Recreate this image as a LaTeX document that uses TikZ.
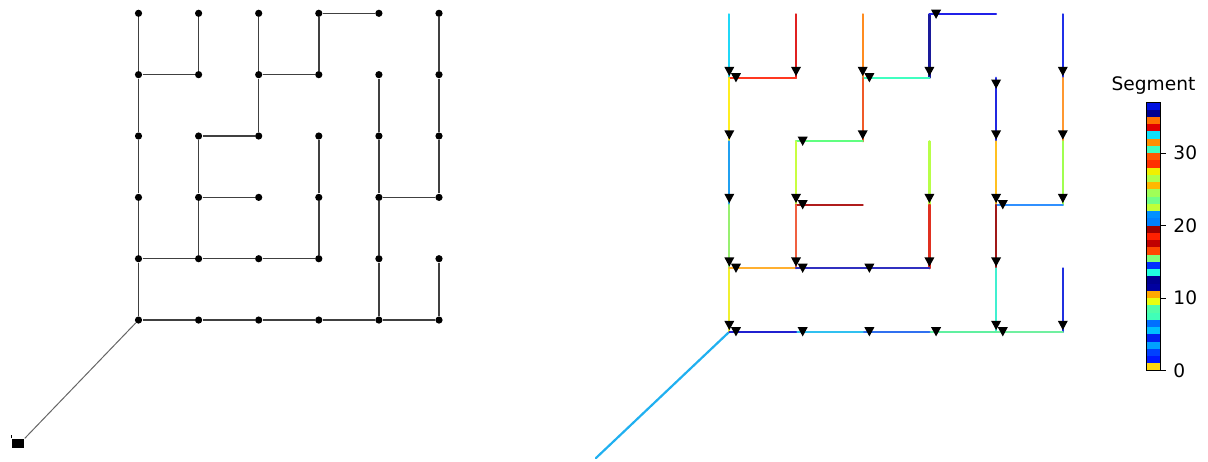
\documentclass[tikz,border=0pt]{standalone}
\usepackage{fontspec}
\setmainfont{DejaVu Sans}
\usetikzlibrary{calc}
% right-panel segment colours
\definecolor{rc1}{HTML}{20D8F8}\definecolor{rc2}{HTML}{E02020}\definecolor{rc3}{HTML}{FF3820}
\definecolor{rc4}{HTML}{FF8C20}\definecolor{rc5}{HTML}{1A1A9A}\definecolor{rc6}{HTML}{2020E8}
\definecolor{rc7}{HTML}{40FFC0}\definecolor{rc8}{HTML}{F05A28}\definecolor{rc9}{HTML}{2030E8}
\definecolor{rc10}{HTML}{FF9830}\definecolor{rc11}{HTML}{A0FF50}\definecolor{rc12}{HTML}{FFEE20}
\definecolor{rc13}{HTML}{20A0F0}\definecolor{rc14}{HTML}{98F070}\definecolor{rc15}{HTML}{F0F030}
\definecolor{rc16}{HTML}{60FF80}\definecolor{rc17}{HTML}{C8FF40}\definecolor{rc18}{HTML}{B01C1C}
\definecolor{rc19}{HTML}{F06040}\definecolor{rc20}{HTML}{FFB030}\definecolor{rc21}{HTML}{B8FF48}
\definecolor{rc22}{HTML}{E03020}\definecolor{rc23}{HTML}{3030C0}\definecolor{rc24}{HTML}{3030C0}
\definecolor{rc25}{HTML}{2028E0}\definecolor{rc26}{HTML}{FFC020}\definecolor{rc27}{HTML}{3090FF}
\definecolor{rc28}{HTML}{A01818}\definecolor{rc29}{HTML}{40F0D0}\definecolor{rc30}{HTML}{2030E0}
\definecolor{rc31}{HTML}{70F0A0}\definecolor{rc32}{HTML}{60F0A0}\definecolor{rc33}{HTML}{3070F0}
\definecolor{rc34}{HTML}{30C0F0}\definecolor{rc35}{HTML}{2020D0}\definecolor{rc36}{HTML}{20B0F0}
% colour-bar colours
\definecolor{cb0}{HTML}{FFD810}\definecolor{cb1}{HTML}{0018FF}\definecolor{cb2}{HTML}{0040FF}
\definecolor{cb3}{HTML}{00A0FF}\definecolor{cb4}{HTML}{0020F0}\definecolor{cb5}{HTML}{00C0FF}
\definecolor{cb6}{HTML}{0070FF}\definecolor{cb7}{HTML}{40FFB8}\definecolor{cb8}{HTML}{50FFA8}
\definecolor{cb9}{HTML}{E8FF10}\definecolor{cb10}{HTML}{FFA800}\definecolor{cb11}{HTML}{0000A0}
\definecolor{cb12}{HTML}{000090}\definecolor{cb13}{HTML}{20FFE0}\definecolor{cb14}{HTML}{0030FF}
\definecolor{cb15}{HTML}{80FF78}\definecolor{cb16}{HTML}{FF4800}\definecolor{cb17}{HTML}{C00000}
\definecolor{cb18}{HTML}{FF2000}\definecolor{cb19}{HTML}{A00000}\definecolor{cb20}{HTML}{0080FF}
\definecolor{cb21}{HTML}{0090FF}\definecolor{cb22}{HTML}{C0FF38}\definecolor{cb23}{HTML}{70FF88}
\definecolor{cb24}{HTML}{A0FF58}\definecolor{cb25}{HTML}{FFB800}\definecolor{cb26}{HTML}{B0FF48}
\definecolor{cb27}{HTML}{F0F000}\definecolor{cb28}{HTML}{FF3000}\definecolor{cb29}{HTML}{FF5800}
\definecolor{cb30}{HTML}{40FFC0}\definecolor{cb31}{HTML}{FF9000}\definecolor{cb32}{HTML}{10E0F8}
\definecolor{cb33}{HTML}{E00000}\definecolor{cb34}{HTML}{FF7000}\definecolor{cb35}{HTML}{000090}
\definecolor{cb36}{HTML}{0010E0}
\def\edgelist{0-0/0-1/rc1, 1-0/1-1/rc2, 1-1/0-1/rc3, 2-0/2-1/rc4, 3-0/3-1/rc5, 4-0/3-0/rc6,
 3-1/2-1/rc7, 2-1/2-2/rc8, 5-0/5-1/rc9, 5-1/5-2/rc10, 5-2/5-3/rc11, 0-1/0-2/rc12,
 0-2/0-3/rc13, 0-3/0-4/rc14, 0-4/0-5/rc15, 2-2/1-2/rc16, 1-2/1-3/rc17, 2-3/1-3/rc18,
 1-3/1-4/rc19, 1-4/0-4/rc20, 3-2/3-3/rc21, 3-3/3-4/rc22, 3-4/2-4/rc23, 2-4/1-4/rc24,
 4-1/4-2/rc25, 4-2/4-3/rc26, 5-3/4-3/rc27, 4-3/4-4/rc28, 4-4/4-5/rc29, 5-4/5-5/rc30,
 5-5/4-5/rc31, 4-5/3-5/rc32, 3-5/2-5/rc33, 2-5/1-5/rc34, 1-5/0-5/rc35}
\begin{document}
\begin{tikzpicture}[x=0.5pt,y=-0.5pt,
  dot/.style={circle,fill=black,inner sep=0pt,minimum size=3.6pt},
  lline/.style={draw=black!75,line width=0.75pt},
  srcline/.style={draw=black!60,line width=0.5pt},
  rline/.style={line width=1.1pt,line cap=round},
  mk/.pic={\fill[black] (-5,-4.6) -- (5,-4.6) -- (0,4.6) -- cycle;},
  lbl/.style={font=\fontsize{9.3}{11}\selectfont,inner sep=0pt}]
\useasboundingbox (0,0) rectangle (1208,461);
% ---------- left panel ----------
\foreach \cc in {0,...,5}{
  \foreach \rr in {0,...,5}{
    \node[dot] (L-\cc-\rr) at ({138.5+60.1*\cc},{13.3+61.35*\rr}) {};
  }
}
\foreach \a/\b/\col in \edgelist { \draw[lline] (L-\a) -- (L-\b); }
\node[rectangle,fill=black,inner sep=0pt,minimum width=6.4pt,minimum height=4.8pt] (Lsrc) at (18,443.5) {};
\draw[black,line width=0.5pt] (Lsrc.north west) -- ++(0,-3);
\draw[srcline] (L-0-5) -- (Lsrc.north east);
% ---------- right panel ----------
\foreach \cc in {0,...,5}{
  \foreach \rr in {0,...,5}{
    \coordinate (R-\cc-\rr) at ({729.3+66.7*\cc},{14.3+63.5*\rr});
  }
}
\coordinate (Rsrc) at (596,458);
\draw[rline,draw=rc36] (R-0-5) -- (Rsrc);
\foreach \a/\b/\col in \edgelist { \draw[rline,draw=\col] (R-\a) -- (R-\b); }
\foreach \a/\b/\col in \edgelist { \pic at ($(R-\a)!0.9!(R-\b)$) {mk}; }
\pic at ($(R-4-1)!0.1!(R-4-2)$) {mk};
% ---------- colour bar ----------
\foreach \i in {0,...,36}{
  \fill[cb\i] (1146.7,{370.7-7.25*\i}) rectangle (1160,{370.7-7.25*(\i+1)});
}
\draw[line width=0.5pt] (1146.7,102.45) rectangle (1160,370.7);
\foreach \v in {0,10,20,30}{
  \draw[line width=0.5pt] (1160,{370.7-7.25*\v}) -- ++(6,0);
  \node[lbl,anchor=west] (tick\v) at (1173,{370.7-7.25*\v}) {\v};
}
\node[lbl,anchor=base] (cbtitle) at (1153.5,90) {Segment};
\end{tikzpicture}
\end{document}
